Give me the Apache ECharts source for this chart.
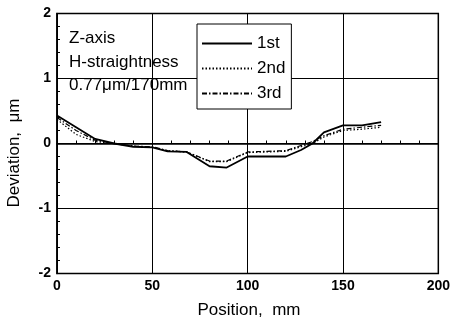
<!DOCTYPE html>
<html><head><meta charset="utf-8">
<script src="https://cdn.jsdelivr.net/npm/echarts@6/dist/echarts.min.js"></script>
<style>html,body{margin:0;padding:0;background:#fff}#c{width:453px;height:323px}</style>
</head><body><div id="c"></div>
<script>
const positions = [0, 10, 20, 30, 40, 50, 58, 68, 80, 89, 100, 110, 120, 128, 134, 140, 150, 160, 170];
const run1 = [0.43, 0.25, 0.07, 0.0, -0.05, -0.06, -0.12, -0.13, -0.35, -0.37, -0.2, -0.2, -0.2, -0.1, 0.0, 0.17, 0.28, 0.28, 0.33];
const run2 = [0.37, 0.14, 0.03, 0.0, -0.04, -0.06, -0.11, -0.13, -0.28, -0.28, -0.14, -0.13, -0.12, -0.05, 0.0, 0.1, 0.2, 0.22, 0.25];
const run3 = [0.40, 0.2, 0.05, 0.0, -0.04, -0.05, -0.11, -0.13, -0.27, -0.27, -0.13, -0.12, -0.11, -0.03, 0.03, 0.12, 0.22, 0.25, 0.28];
const seriesNames = ['1st', '2nd', '3rd'];
const noteLines = ['Z-axis', 'H-straightness', '0.77\u03bcm/170mm'];
const xTitle = 'Position,  mm';
const yTitle = 'Deviation,  \u03bcm';

const FONT = '"Liberation Sans",Arial,sans-serif';
const pair = ys => positions.map((x, i) => [x, ys[i]]);
const chart = echarts.init(document.getElementById('c'), null, {renderer: 'canvas'});
chart.setOption({
  animation: false,
  backgroundColor: '#fff',
  grid: {left: 57, right: 13, top: 13.5, bottom: 49.5, show: true, borderColor: '#000', borderWidth: 1.5},
  xAxis: {
    type: 'value', min: 0, max: 200, interval: 50,
    axisLine: {show: true, lineStyle: {color: '#000', width: 1.5}},
    axisTick: {show: true, inside: true, length: 4, lineStyle: {color: '#000'}},
    minorTick: {show: true, splitNumber: 5, length: 3, lineStyle: {color: '#000'}},
    axisLabel: {fontFamily: FONT, fontSize: 14, fontWeight: 'bold', color: '#000', margin: 6},
    splitLine: {show: true, lineStyle: {color: '#000', width: 1}}
  },
  yAxis: {
    type: 'value', min: -2, max: 2, interval: 1,
    axisLine: {show: true, lineStyle: {color: '#000', width: 1.5}},
    axisTick: {show: true, inside: true, length: 4, lineStyle: {color: '#000'}},
    minorTick: {show: true, splitNumber: 5, length: 3, lineStyle: {color: '#000'}},
    axisLabel: {fontFamily: FONT, fontSize: 14, fontWeight: 'bold', color: '#000', margin: 6},
    splitLine: {show: true, lineStyle: {color: '#000', width: 1}}
  },
  legend: {
    orient: 'vertical', left: 197, top: 24,
    padding: [11, 6, 7, 4], itemGap: 8, itemWidth: 50, itemHeight: 14,
    borderColor: '#000', borderWidth: 1, backgroundColor: '#fff',
    itemStyle: {opacity: 0},
    textStyle: {fontFamily: FONT, fontSize: 17, color: '#000'},
    data: seriesNames
  },
  graphic: noteLines.map((t, i) => ({
    type: 'text', left: 69, top: [30, 54, 77][i], z: 10,
    style: {text: t, fontFamily: FONT, fontSize: 17, fill: '#000'}
  })).concat([
    {type: 'text', x: 249, y: 310, z: 10,
     style: {text: xTitle, fontFamily: FONT, fontSize: 17, fill: '#000', align: 'center', verticalAlign: 'middle'}},
    {type: 'text', x: 14, y: 153, rotation: Math.PI / 2, z: 10,
     style: {text: yTitle, fontFamily: FONT, fontSize: 17, fill: '#000', align: 'center', verticalAlign: 'middle'}}
  ]),
  series: [
    {name: seriesNames[0], type: 'line', data: pair(run1), showSymbol: false, symbol: 'none',
     lineStyle: {color: '#000', width: 1.8, type: 'solid'}, itemStyle: {color: '#000'}},
    {name: seriesNames[1], type: 'line', data: pair(run2), showSymbol: false, symbol: 'none',
     lineStyle: {color: '#000', width: 1.2, type: [1.5, 2]}, itemStyle: {color: '#000'}},
    {name: seriesNames[2], type: 'line', data: pair(run3), showSymbol: false, symbol: 'none',
     lineStyle: {color: '#000', width: 1.2, type: [5, 2, 1.5, 2]}, itemStyle: {color: '#000'}}
  ]
});
</script></body></html>
